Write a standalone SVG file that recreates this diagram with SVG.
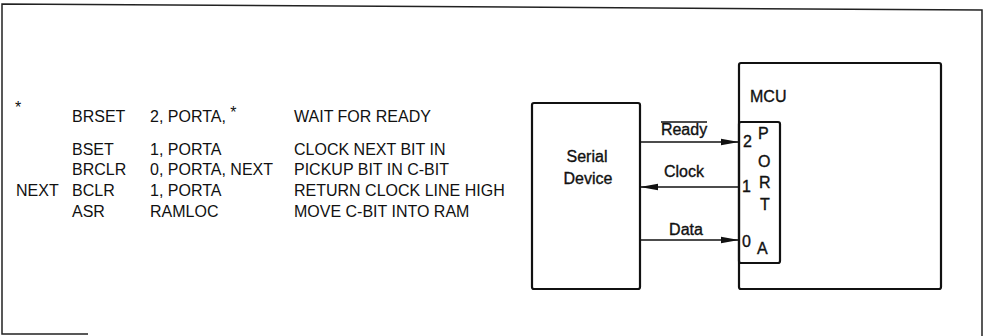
<svg xmlns="http://www.w3.org/2000/svg" width="987" height="336" viewBox="0 0 987 336">
<defs>
<style>
text{font-family:"Liberation Sans",Arial,sans-serif;fill:#111;}
.code{font-size:16px;}
.lbl{font-size:16px;stroke:#111;stroke-width:0.35;}
.box{fill:none;stroke:#111;stroke-width:2.2;}
.wire{fill:none;stroke:#111;stroke-width:1.5;}
</style>
<marker id="ah" viewBox="0 0 20 8" refX="20" refY="4" markerWidth="20" markerHeight="8" markerUnits="userSpaceOnUse" orient="auto">
<path d="M2,0.8 L20,4 L2,7.2 Z" fill="#111"/>
</marker>
</defs>
<rect width="987" height="336" fill="#fff"/>
<polyline points="88,334 2,334 2,4 982,10 982,336" fill="none" stroke="#222" stroke-width="1.5"/>
<g id="code">
<text class="code" x="15" y="113">*</text>
<text class="code" x="72" y="122">BRSET</text>
<text class="code" x="150" y="122">2, PORTA, <tspan dy="-4">*</tspan></text>
<text class="code" x="294" y="122">WAIT FOR READY</text>
<text class="code" x="72" y="155">BSET</text>
<text class="code" x="150" y="155">1, PORTA</text>
<text class="code" x="294" y="155">CLOCK NEXT BIT IN</text>
<text class="code" x="72" y="175">BRCLR</text>
<text class="code" x="150" y="175">0, PORTA, NEXT</text>
<text class="code" x="294" y="175">PICKUP BIT IN C-BIT</text>
<text class="code" x="16" y="196">NEXT</text>
<text class="code" x="72" y="196">BCLR</text>
<text class="code" x="150" y="196">1, PORTA</text>
<text class="code" x="294" y="196">RETURN CLOCK LINE HIGH</text>
<text class="code" x="72" y="217">ASR</text>
<text class="code" x="150" y="217">RAMLOC</text>
<text class="code" x="294" y="217">MOVE C-BIT INTO RAM</text>
</g>
<g id="serial-device">
<rect class="box" x="532" y="103" width="108" height="186" rx="2"/>
<text class="lbl" x="587" y="162" text-anchor="middle">Serial</text>
<text class="lbl" x="588" y="184" text-anchor="middle">Device</text>
</g>
<g id="mcu">
<rect class="box" x="739" y="63" width="202" height="226" rx="2"/>
<text class="lbl" x="750" y="102">MCU</text>
</g>
<g id="port-a">
<rect class="box" x="739" y="122" width="41" height="141" rx="2"/>
<text class="lbl" x="743" y="147">2</text>
<text class="lbl" x="758" y="139">P</text>
<text class="lbl" x="758" y="167">O</text>
<text class="lbl" x="742" y="192">1</text>
<text class="lbl" x="759" y="188">R</text>
<text class="lbl" x="760" y="210">T</text>
<text class="lbl" x="742" y="247">0</text>
<text class="lbl" x="757" y="254">A</text>
</g>
<g id="connectors">
<line class="wire" x1="640" y1="142" x2="739" y2="142" marker-end="url(#ah)"/>
<line class="wire" x1="739" y1="187" x2="640" y2="187" marker-end="url(#ah)"/>
<line class="wire" x1="640" y1="240" x2="739" y2="240" marker-end="url(#ah)"/>
<text class="lbl" x="684" y="135" text-anchor="middle">Ready</text>
<line x1="661" y1="122" x2="707" y2="122" stroke="#111" stroke-width="1.3"/>
<text class="lbl" x="684" y="177" text-anchor="middle">Clock</text>
<text class="lbl" x="686" y="235" text-anchor="middle">Data</text>
</g>
</svg>
